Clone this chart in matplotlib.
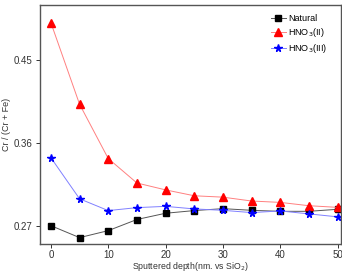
import numpy as np
import matplotlib
matplotlib.use("Agg")
import matplotlib.pyplot as plt

plt.rcParams['font.family'] = ['Liberation Sans', 'DejaVu Sans']

depth = [0, 5, 10, 15, 20, 25, 30, 35, 40, 45, 50]
natural = [0.270, 0.257, 0.2646, 0.2767, 0.2835, 0.2864, 0.2885, 0.2867, 0.2856, 0.2856, 0.2878]
hno3_ii = [0.4906, 0.402, 0.343, 0.3164, 0.3089, 0.3025, 0.301, 0.2968, 0.2953, 0.2917, 0.2899]
hno3_iii = [0.3439, 0.2992, 0.2864, 0.2896, 0.291, 0.2882, 0.2867, 0.2842, 0.286, 0.2828, 0.2796]

fig = plt.figure(figsize=(3.42, 2.73), dpi=100)
ax = fig.add_axes([0.117, 0.106, 0.880, 0.876])

ax.plot(depth, natural, color='#555555', lw=0.7, marker='s', ms=4.5,
        mfc='black', mec='black', label='Natural')
ax.plot(depth, hno3_ii, color='#ff8080', lw=0.7, marker='^', ms=5.5,
        mfc='red', mec='red', label=r'HNO$_3$(II)')
ax.plot(depth, hno3_iii, color='#8080ff', lw=0.7, marker='*', ms=5.5,
        mfc='blue', mec='blue', label=r'HNO$_3$(III)')

ax.set_xlim(-1.9, 50.6)
ax.set_ylim(0.250, 0.510)
ax.set_xticks([0, 10, 20, 30, 40, 50])
ax.set_yticks([0.27, 0.36, 0.45])
ax.tick_params(direction='out', labelsize=7, length=3, width=0.7, colors='#333333')
ax.tick_params(axis='x', pad=1.5)
ax.tick_params(axis='y', pad=2.5)
for s in ax.spines.values():
    s.set_linewidth(1.0)
    s.set_color('#555555')

ax.set_xlabel(r'Sputtered depth(nm. vs SiO$_2$)', fontsize=6.3, labelpad=0, color='#333333')
ax.set_ylabel('Cr / (Cr + Fe)', fontsize=6.5, labelpad=2, color='#333333')

ax.legend(loc='upper right', frameon=False, fontsize=6.5, handlelength=1.6,
          handletextpad=0.3, labelspacing=0.35, borderaxespad=0.6,
          bbox_to_anchor=(0.985, 1.0))

fig.savefig('out.png', dpi=100)
